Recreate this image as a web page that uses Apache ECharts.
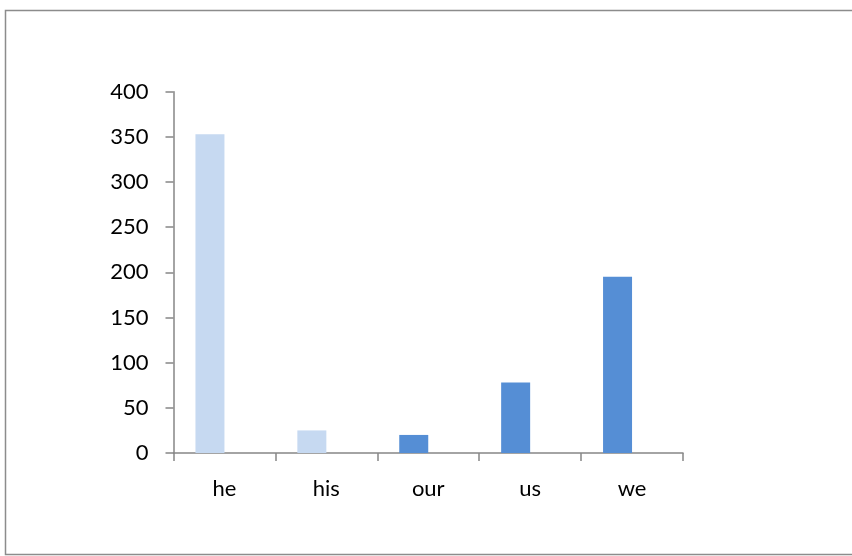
<!DOCTYPE html>
<html>
<head>
<meta charset="utf-8">
<title>Pronoun counts</title>
<script src="https://cdn.jsdelivr.net/npm/echarts@6/dist/echarts.min.js"></script>
<style>
  html, body { margin: 0; padding: 0; background: #ffffff; }
  #chart { width: 852px; height: 556px; }
</style>
</head>
<body>
<div id="chart"></div>
<script>
// Word frequency data
var categories = ['he', 'his', 'our', 'us', 'we'];
var counts = [353, 25, 20, 78, 195];
// second cluster slot, left empty
var emptySlot = [null, null, null, null, null];
var yTicks = { min: 0, max: 400, step: 50 };

var lightBlue = '#C6D9F1';
var mediumBlue = '#558ED5';
var axisGray = '#868686';

var chart = echarts.init(document.getElementById('chart'), null, { renderer: 'canvas' });

chart.setOption({
  backgroundColor: '#ffffff',
  animation: false,
  graphic: [{
    type: 'rect',
    silent: true,
    shape: { x: 5.5, y: 10.5, width: 860, height: 544 },
    style: { fill: 'none', stroke: '#8c8c8c', lineWidth: 1.5 }
  }],
  grid: {
    left: 173.5,
    right: 169,
    top: 91.7,
    bottom: 103,
    containLabel: false
  },
  xAxis: {
    type: 'category',
    data: categories,
    boundaryGap: true,
    axisLine: { show: true, lineStyle: { color: axisGray, width: 1.5 } },
    axisTick: { show: true, alignWithLabel: false, length: 8, lineStyle: { color: axisGray, width: 1.5 } },
    axisLabel: {
      margin: 25,
      color: '#000000',
      fontFamily: 'Lato, "Open Sans", sans-serif',
      fontSize: 22
    },
    splitLine: { show: false }
  },
  yAxis: {
    type: 'value',
    min: yTicks.min,
    max: yTicks.max,
    interval: yTicks.step,
    axisLine: { show: true, lineStyle: { color: axisGray, width: 1.5 } },
    axisTick: { show: true, length: 8, lineStyle: { color: axisGray, width: 1.5 } },
    axisLabel: {
      margin: 25,
      color: '#000000',
      fontFamily: 'Lato, "Open Sans", sans-serif',
      fontSize: 22
    },
    splitLine: { show: false }
  },
  series: [{
    type: 'bar',
    data: counts,
    barWidth: 29,
    barGap: '0%',
    itemStyle: {
      color: function (p) { return p.dataIndex < 2 ? lightBlue : mediumBlue; }
    }
  }, {
    type: 'bar',
    data: emptySlot,
    barWidth: 29,
    barGap: '0%',
    silent: true
  }]
});
</script>
</body>
</html>
